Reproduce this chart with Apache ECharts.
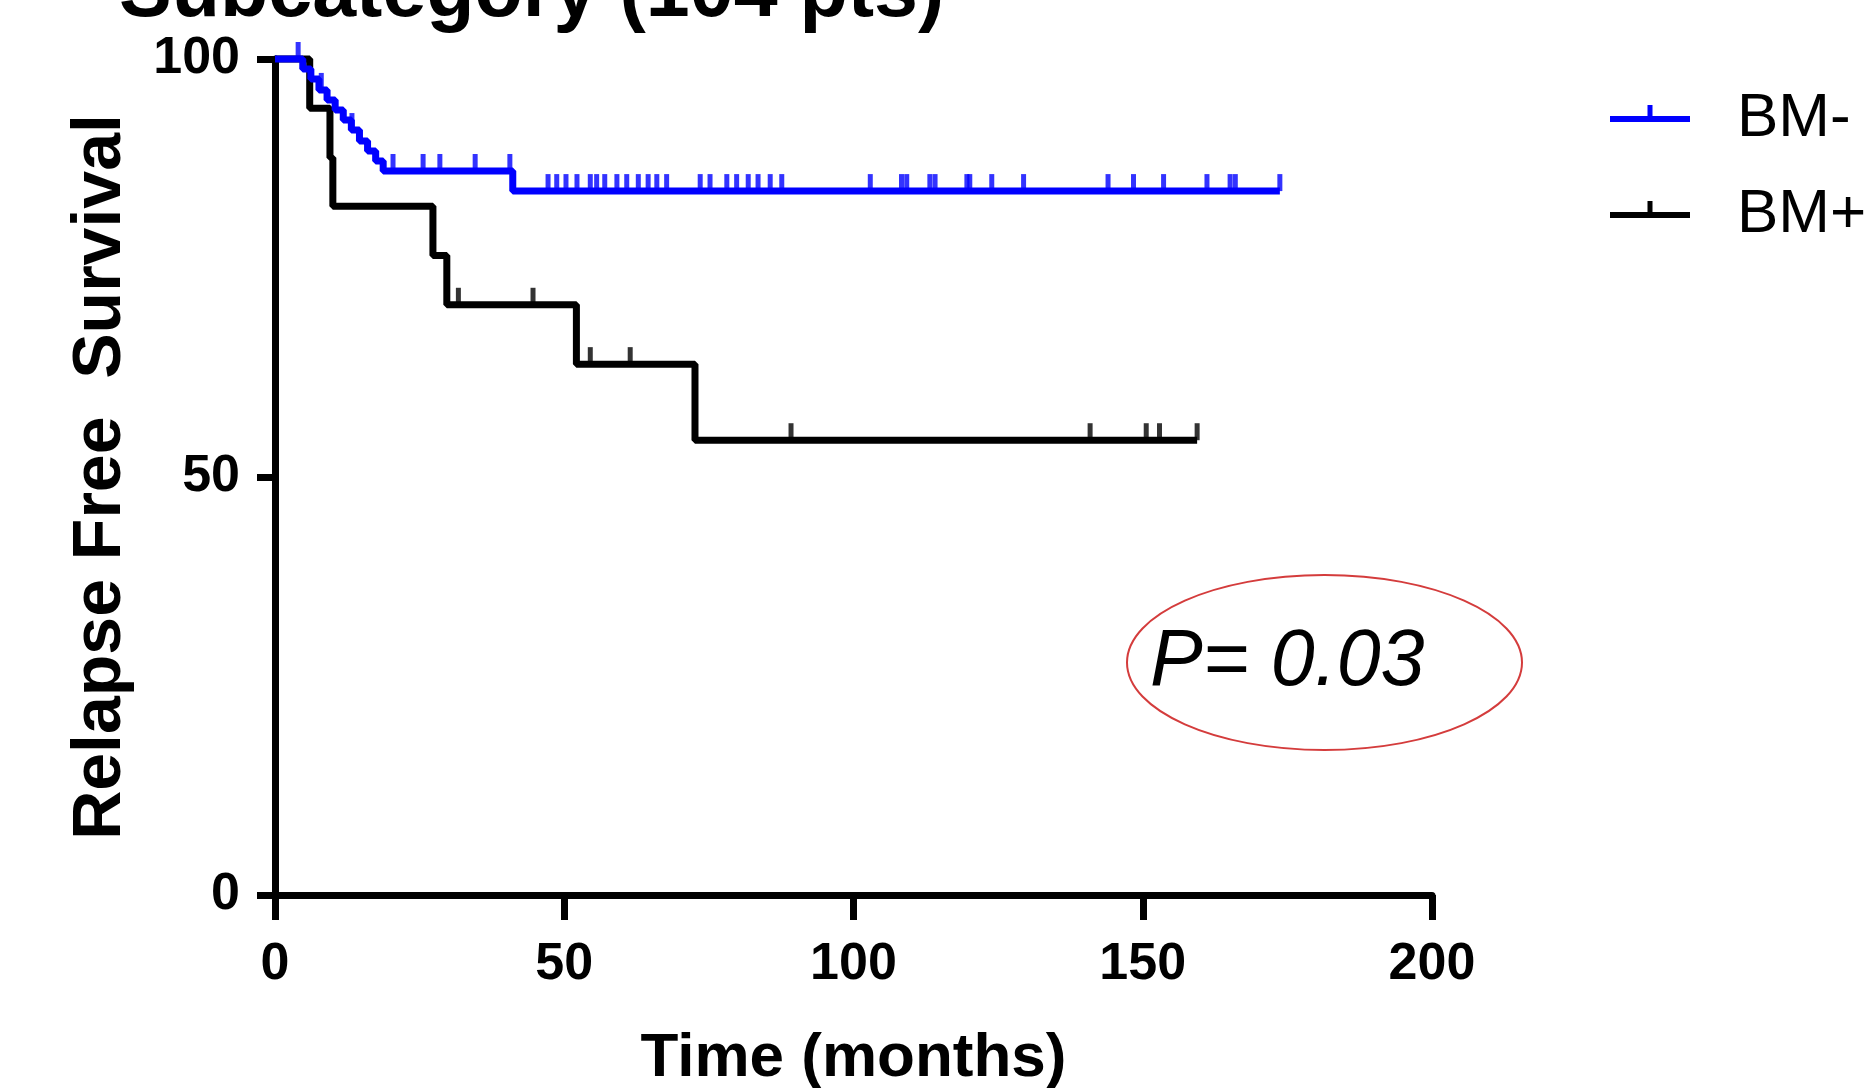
<!DOCTYPE html>
<html><head><meta charset="utf-8">
<script src="https://cdn.jsdelivr.net/npm/echarts@6/dist/echarts.min.js"></script>
<style>html,body{margin:0;padding:0;background:#fff}#c{width:1868px;height:1088px}</style>
</head><body><div id="c"></div>
<script>
const FONT = '"Liberation Sans", Arial, sans-serif';
const titleText = 'Subcategory (104 pts)';
const xTicks = [0, 50, 100, 150, 200];
const yTicks = [0, 50, 100];
const seriesNames = ['BM-', 'BM+'];
const seriesColors = ['#0000ff', '#000000'];

// BM- (blue) step curve: event times (months) and survival (%)
const bmNegTimes = [0, 4.8, 6.2, 7.6, 9.0, 10.4, 11.8, 13.2, 14.6, 16.0, 17.4, 18.7, 41.1, 173.7];
const bmNegSurv  = [100, 98.8, 97.6, 96.3, 95.1, 93.9, 92.7, 91.5, 90.2, 89.0, 87.8, 86.6, 84.2, 84.2];
// BM- censor times
const bmNegCensor = [4.0, 8.0, 13.3, 20.4, 25.6, 28.5, 34.6, 40.6,
  47.2, 48.7, 50.3, 52.2, 54.5, 55.6, 57.0, 59.1, 60.8, 62.8, 64.5, 66.0, 67.7,
  73.5, 75.2, 78.1, 79.8, 81.8, 83.5, 85.6, 87.6, 102.9, 108.3, 109.2, 113.2, 114.1,
  119.6, 120.1, 123.9, 129.4, 144.0, 148.4, 153.6, 161.1, 165.1, 166.0, 173.7];

// BM+ (black) step curve
const bmPosTimes = [0, 6.0, 9.5, 10.0, 27.3, 29.7, 52.1, 72.6, 159.4];
const bmPosSurv  = [100, 94.1, 88.2, 82.4, 76.5, 70.6, 63.5, 54.4, 54.4];
const bmPosCensor = [31.7, 44.6, 54.5, 61.4, 89.2, 140.9, 150.6, 152.9, 159.4];

const pValueText = 'P= 0.03';

function survAt(times, surv, t) {
  let s = surv[0];
  for (let i = 0; i < times.length; i++) if (times[i] <= t) s = surv[i];
  return s;
}
function zip(a, b) { return a.map((v, i) => [v, b[i]]); }
function censorPts(ct, times, surv) { return ct.map(t => [t, survAt(times, surv, t)]); }

// bar with a small tick; degenerate sub-path at y=28 keeps the bar vertically centred
const legendIcon = 'path://M0,11L80,11L80,17L0,17Z M37.5,0L42.5,0L42.5,11L37.5,11Z M0,28L0.01,28Z';

const chart = echarts.init(document.getElementById('c'), null, {renderer: 'canvas'});
chart.setOption({
  animation: false,
  backgroundColor: '#fff',
  title: {
    text: titleText, left: 119, top: -45, padding: 0,
    textStyle: {fontSize: 79, fontWeight: 'bold', fontFamily: FONT, color: '#000'}
  },
  grid: {left: 275, right: 436, top: 59, bottom: 193, outerBoundsMode: 'none'},
  legend: {
    orient: 'vertical', left: 1605, top: 83, itemWidth: 80, itemHeight: 28, itemGap: 34,
    selectedMode: false,
    data: seriesNames.map(n => ({name: n, icon: legendIcon})),
    textStyle: {fontSize: 62, fontFamily: FONT, color: '#000', padding: [0, 0, 0, 42]}
  },
  xAxis: {
    type: 'value', min: xTicks[0], max: xTicks[xTicks.length - 1], interval: xTicks[1] - xTicks[0],
    axisLine: {show: true, onZero: false, lineStyle: {color: '#000', width: 7}},
    axisTick: {show: true, length: 25, lineStyle: {color: '#000', width: 7}},
    axisLabel: {fontSize: 52, fontWeight: 'bold', fontFamily: FONT, color: '#000', margin: 44},
    splitLine: {show: false},
    name: 'Time (months)', nameLocation: 'middle', nameGap: 133,
    nameTextStyle: {fontSize: 62, fontWeight: 'bold', fontFamily: FONT, color: '#000'}
  },
  yAxis: {
    type: 'value', min: yTicks[0], max: yTicks[yTicks.length - 1], interval: yTicks[1] - yTicks[0],
    axisLine: {show: true, onZero: false, lineStyle: {color: '#000', width: 7}},
    axisTick: {show: true, length: 18, lineStyle: {color: '#000', width: 7}},
    axisLabel: {fontSize: 52, fontWeight: 'bold', fontFamily: FONT, color: '#000', margin: 35},
    splitLine: {show: false},
    name: 'Relapse Free  Survival', nameLocation: 'middle', nameGap: 140, nameRotate: 90,
    nameTextStyle: {fontSize: 68, fontWeight: 'bold', fontFamily: FONT, color: '#000'}
  },
  graphic: [
    {type: 'ellipse', shape: {cx: 1324.5, cy: 662.5, rx: 197.5, ry: 87.5},
     style: {fill: 'none', stroke: '#d43c3c', lineWidth: 2}, z: 10},
    {type: 'text', x: 1150, y: 663,
     style: {text: pValueText, font: 'italic 79px ' + FONT, fill: '#000', verticalAlign: 'middle', align: 'left'}, z: 10}
  ],
  series: [
    {type: 'line', name: seriesNames[1], step: 'end', symbol: 'none', clip: false, z: 2,
     data: zip(bmPosTimes, bmPosSurv),
     lineStyle: {color: seriesColors[1], width: 7}, itemStyle: {color: seriesColors[1]}},
    {type: 'scatter', name: seriesNames[1], symbol: 'rect', symbolSize: [5, 17], symbolOffset: [0, '-50%'],
     clip: false, z: 2, data: censorPts(bmPosCensor, bmPosTimes, bmPosSurv),
     itemStyle: {color: seriesColors[1]}},
    {type: 'line', name: seriesNames[0], step: 'end', symbol: 'none', clip: false, z: 3,
     data: zip(bmNegTimes, bmNegSurv),
     lineStyle: {color: seriesColors[0], width: 7}, itemStyle: {color: seriesColors[0]}},
    {type: 'scatter', name: seriesNames[0], symbol: 'rect', symbolSize: [5, 17], symbolOffset: [0, '-50%'],
     clip: false, z: 3, data: censorPts(bmNegCensor, bmNegTimes, bmNegSurv),
     itemStyle: {color: seriesColors[0]}}
  ]
});
</script>
</body></html>
